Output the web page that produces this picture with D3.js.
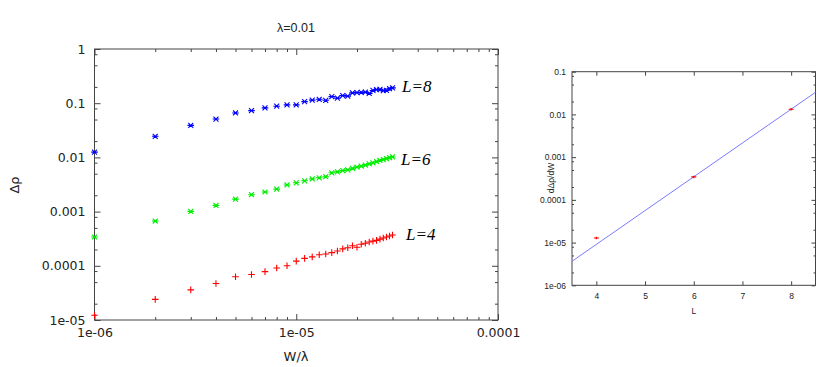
<!DOCTYPE html>
<html><head><meta charset="utf-8">
<script src="https://cdn.jsdelivr.net/npm/d3@7"></script>
<style>body{margin:0;background:#fff} svg{display:block}</style>
</head><body>
<svg id="c" width="830" height="367"></svg>
<script>
// ---------- data ----------
const wOverLambda = [1e-6,2e-6,3e-6,4e-6,5e-6,6e-6,7e-6,8e-6,9e-6,1e-5,
  1.1e-5,1.2e-5,1.3e-5,1.4e-5,1.5e-5,1.6e-5,1.7e-5,1.8e-5,1.9e-5,2e-5,
  2.1e-5,2.2e-5,2.3e-5,2.4e-5,2.5e-5,2.6e-5,2.7e-5,2.8e-5,2.9e-5,3e-5];
const rhoL8 = [0.0125,0.0245,0.039,0.051,0.066,0.073,0.082,0.088,0.093,0.093,
  0.107,0.114,0.118,0.113,0.132,0.124,0.138,0.135,0.155,0.157,
  0.158,0.160,0.152,0.172,0.178,0.180,0.170,0.172,0.185,0.192];
const rhoL6 = [0.00034,0.00067,0.00101,0.0013,0.0017,0.00205,0.0023,0.0026,0.0031,0.0034,
  0.0037,0.0040,0.0042,0.0044,0.0052,0.0054,0.0057,0.0059,0.0063,0.0066,
  0.0069,0.0072,0.0076,0.0079,0.0084,0.0088,0.0091,0.0095,0.0099,0.0102];
const rhoL4 = [1.22e-5,2.4e-5,3.6e-5,4.7e-5,6.3e-5,6.9e-5,7.8e-5,9.1e-5,1.0e-4,1.22e-4,
  1.37e-4,1.46e-4,1.6e-4,1.65e-4,1.75e-4,1.88e-4,2.05e-4,2.15e-4,2.35e-4,2.2e-4,
  2.5e-4,2.6e-4,2.75e-4,2.85e-4,2.95e-4,3.1e-4,3.25e-4,3.4e-4,3.55e-4,3.7e-4];
const seriesNames = ["L=8","L=6","L=4"];
const seriesColors = ["#0000ff","#00ee00","#ff0000"];
const seriesMarkers = ["star","star","plus"];

const mainTitle = "λ=0.01";
const mainXLabel = "W/λ";
const mainYLabel = "Δρ";
const mainXTicks = [1e-6,1e-5,1e-4];
const mainXTickLabels = ["1e-06","1e-05","0.0001"];
const mainYTicks = [1,0.1,0.01,0.001,0.0001,1e-5];
const mainYTickLabels = ["1","0.1","0.01","0.001","0.0001","1e-05"];

const insetL = [4,6,8];
const insetSlope = [1.28e-5,3.44e-4,1.32e-2];
const fitL = [3.5,8.5];
const fitSlope = [3.65e-6,3.3e-2];
const insetXTicks = [4,5,6,7,8];
const insetXTickLabels = ["4","5","6","7","8"];
const insetYTicks = [0.1,0.01,0.001,0.0001,1e-5,1e-6];
const insetYTickLabels = ["0.1","0.01","0.001","0.0001","1e-05","1e-06"];
const insetXLabel = "L";
const insetYLabel = "dΔρ/dW";

// ---------- layout ----------
const svg = d3.select("#c");
const SANS = "'DejaVu Sans', sans-serif";
const frameColor = "#444";

function minorLog(domain, mults){
  const lo = Math.floor(Math.log10(Math.min(...domain)));
  const hi = Math.ceil(Math.log10(Math.max(...domain)));
  const out=[];
  for(let e=lo;e<hi;e++) for(const m of mults){ const v=m*Math.pow(10,e); if(v>=Math.min(...domain)&&v<=Math.max(...domain)) out.push(v);}
  return out;
}

function drawFrame(g, x, y, xT, xTL, yT, yTL, xMinor, yMinor, majLen, minLen, fontSize, fontFam, labelPadX, labelPadY){
  const [x0,x1]=x.range(), [y0,y1]=y.range();
  const W=x1-x0, H=y0-y1;
  const ax = [
    {a:d3.axisBottom(x).tickValues(xT).tickSize(-majLen).tickFormat((d,i)=>xTL[i]), t:`translate(0,${y0})`},
    {a:d3.axisBottom(x).tickValues(xMinor).tickSize(-minLen).tickFormat(""), t:`translate(0,${y0})`},
    {a:d3.axisTop(x).tickValues(xT).tickSize(-majLen).tickFormat(""), t:`translate(0,${y1})`},
    {a:d3.axisTop(x).tickValues(xMinor).tickSize(-minLen).tickFormat(""), t:`translate(0,${y1})`},
    {a:d3.axisLeft(y).tickValues(yT).tickSize(-majLen).tickFormat((d,i)=>yTL[i]), t:`translate(${x0},0)`},
    {a:d3.axisLeft(y).tickValues(yMinor).tickSize(-minLen).tickFormat(""), t:`translate(${x0},0)`},
    {a:d3.axisRight(y).tickValues(yT).tickSize(-majLen).tickFormat(""), t:`translate(${x1},0)`},
    {a:d3.axisRight(y).tickValues(yMinor).tickSize(-minLen).tickFormat(""), t:`translate(${x1},0)`},
  ];
  ax.forEach((o,k)=>{
    const s=g.append("g").attr("transform",o.t).call(o.a.tickPadding(k<4?labelPadY:labelPadX));
    s.selectAll("path.domain").remove();
    s.selectAll("line").attr("stroke",frameColor).attr("stroke-width",1);
    s.selectAll("text").attr("fill","#222").style("font-size",fontSize+"px").style("font-family",fontFam);
  });
  g.append("rect").attr("x",x0).attr("y",y1).attr("width",W).attr("height",H)
    .attr("fill","none").attr("stroke",frameColor).attr("stroke-width",1);
}

// ---------- main chart ----------
const mx = d3.scaleLog().domain([1e-6,1e-4]).range([94.5,498]);
const my = d3.scaleLog().domain([1e-5,1]).range([320,49]);
const gMain = svg.append("g");
drawFrame(gMain, mx, my, mainXTicks, mainXTickLabels, mainYTicks, mainYTickLabels,
  minorLog([1e-6,1e-4],[2,3,4,5,6,7,8,9]), minorLog([1e-5,1],[2,5,8]), 6, 3, 12.5, SANS, 9, 8);

const series = [rhoL8, rhoL6, rhoL4];
const markerPath = {
  star: s => `M${-s},0L${s},0M${-s*0.75},${-s*0.75}L${s*0.75},${s*0.75}M${-s*0.75},${s*0.75}L${s*0.75},${-s*0.75}`,
  plus: s => `M${-s},0L${s},0M0,${-s}L0,${s}`
};
series.forEach((vals,si)=>{
  gMain.append("g").selectAll("path").data(vals).join("path")
    .attr("transform",(d,i)=>`translate(${mx(wOverLambda[i])},${my(d)})`)
    .attr("d",markerPath[seriesMarkers[si]](3.3))
    .attr("stroke",seriesColors[si]).attr("stroke-width",1.1).attr("fill","none");
});

const labelPos = [[402,92],[401,165],[406,240]];
seriesNames.forEach((n,i)=>{
  gMain.append("text").attr("x",labelPos[i][0]).attr("y",labelPos[i][1])
    .style("font-family","'Liberation Serif', 'Times New Roman', serif").style("font-style","italic")
    .style("font-size","17px").attr("fill","#000").text(n);
});

gMain.append("text").attr("x",296).attr("y",32).attr("text-anchor","middle")
  .style("font-family","'Liberation Sans Narrow', 'Liberation Sans', sans-serif").style("font-size","12.5px")
  .attr("fill","#222").text(mainTitle);
gMain.append("text").attr("x",296).attr("y",361).attr("text-anchor","middle")
  .style("font-family",SANS).style("font-size","13px").attr("fill","#222").text(mainXLabel);
gMain.append("text").attr("transform","translate(19,185) rotate(-90)").attr("text-anchor","middle")
  .style("font-family",SANS).style("font-size","13px").attr("fill","#222").text(mainYLabel);

// ---------- inset chart ----------
const ix = d3.scaleLinear().domain([3.5,8.5]).range([572,815.5]);
const iy = d3.scaleLog().domain([1e-6,0.1]).range([285.3,71.7]);
const gIn = svg.append("g");
drawFrame(gIn, ix, iy, insetXTicks, insetXTickLabels, insetYTicks, insetYTickLabels,
  [], minorLog([1e-6,0.1],[2,5,8]), 4, 2, 8.5, "'Liberation Sans', sans-serif", 6, 8);

gIn.append("path").datum(fitL.map((l,i)=>[l,fitSlope[i]]))
  .attr("d",d3.line().x(d=>ix(d[0])).y(d=>iy(d[1])))
  .attr("stroke","#7a7aff").attr("stroke-width",1).attr("fill","none");
gIn.append("g").selectAll("path").data(insetL).join("path")
  .attr("transform",(d,i)=>`translate(${ix(d)},${iy(insetSlope[i])})`)
  .attr("d","M-2.5,0L2.5,0M0,-1.2L0,1.2")
  .attr("stroke","#ff0000").attr("stroke-width",1.2).attr("fill","none");

gIn.append("text").attr("x",ix(6)).attr("y",314).attr("text-anchor","middle")
  .style("font-family","'Liberation Sans', sans-serif").style("font-size","8.5px").attr("fill","#222").text(insetXLabel);
gIn.append("text").attr("transform","translate(554,178) rotate(-90)").attr("text-anchor","middle")
  .style("font-family","'Liberation Sans', sans-serif").style("font-size","8.5px").attr("fill","#222").text(insetYLabel);
</script>
</body></html>
